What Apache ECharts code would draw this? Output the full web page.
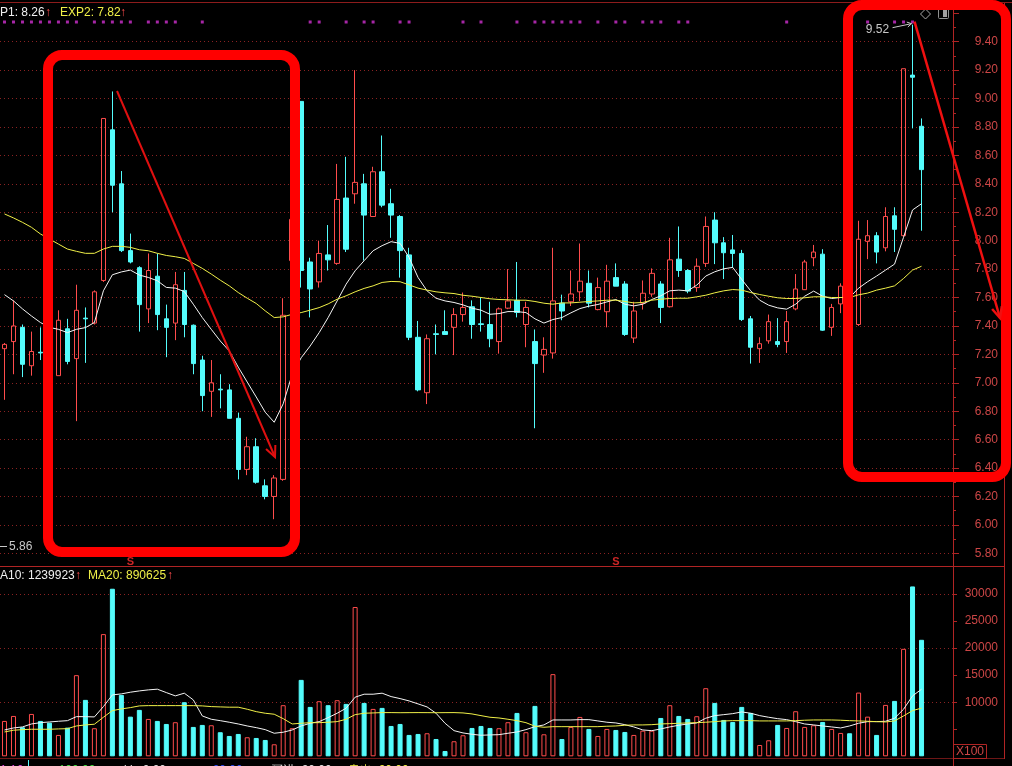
<!DOCTYPE html>
<html>
<head>
<meta charset="utf-8">
<script src="https://cdn.jsdelivr.net/npm/echarts@6/dist/echarts.min.js"></script>
<style>
html,body{margin:0;padding:0;background:#000;overflow:hidden}
#chart{width:1012px;height:766px}
</style>
</head>
<body>
<div id="chart"></div>
<script>
// ---- daily bars ----
const open = [7.24,7.29,7.39,7.12,7.215,7.30,7.05,7.38,7.17,7.455,
 7.42,7.72,8.78,8.40,7.93,7.81,7.52,7.75,7.45,7.42,
 7.65,7.405,7.16,6.94,6.955,6.95,6.75,6.39,6.55,6.275,
 6.20,6.32,7.86,8.98,7.85,7.71,7.90,7.84,8.30,8.33,
 8.40,8.17,8.485,8.26,8.17,7.90,7.32,6.93,7.345,7.36,
 7.39,7.48,7.535,7.415,7.41,7.29,7.525,7.58,7.41,7.29,
 7.195,7.21,7.56,7.57,7.64,7.70,7.515,7.50,7.74,7.695,
 7.315,7.56,7.625,7.695,7.535,7.87,7.79,7.67,7.84,8.145,
 7.985,7.935,7.91,7.45,7.24,7.295,7.29,7.29,7.52,7.655,
 7.88,7.905,7.39,7.555,7.67,7.41,7.995,8.035,7.95,8.175,
 8.035,9.165,8.805];
const close = [7.27,7.40,7.13,7.22,7.21,7.20,7.44,7.15,7.51,7.45,
 7.64,8.86,8.39,7.93,7.85,7.55,7.79,7.48,7.39,7.69,
 7.41,7.135,6.91,7.00,6.95,6.75,6.39,6.55,6.30,6.20,
 6.33,7.475,8.15,7.79,7.66,7.91,7.865,8.29,7.94,8.41,
 8.18,8.485,8.25,8.18,7.93,7.32,6.95,7.31,7.34,7.34,
 7.48,7.53,7.41,7.41,7.31,7.52,7.576,7.495,7.53,7.135,
 7.235,7.576,7.505,7.625,7.715,7.56,7.67,7.715,7.68,7.34,
 7.505,7.63,7.77,7.53,7.865,7.79,7.645,7.82,8.10,7.985,
 7.915,7.91,7.445,7.25,7.275,7.43,7.27,7.43,7.66,7.85,
 7.92,7.37,7.53,7.68,7.40,8.01,8.035,7.92,8.17,8.08,
 9.21,9.15,8.50];
const low = [6.88,7.06,7.04,7.05,7.16,7.15,7.05,7.13,6.73,7.14,
 7.41,7.71,8.20,7.92,7.84,7.36,7.42,7.37,7.18,7.30,
 7.32,7.06,6.80,6.76,6.82,6.75,6.32,6.35,6.29,6.18,
 6.04,6.31,7.84,7.67,7.46,7.67,7.79,7.83,7.92,8.26,
 7.86,8.17,8.235,8.02,7.74,7.30,6.94,6.85,7.20,7.34,
 7.195,7.43,7.31,7.36,7.25,7.205,7.518,7.46,7.25,6.68,
 7.07,7.17,7.44,7.54,7.575,7.53,7.51,7.39,7.68,7.33,
 7.28,7.515,7.605,7.42,7.53,7.745,7.63,7.64,7.815,7.835,
 7.73,7.81,7.435,7.135,7.14,7.275,7.25,7.21,7.51,7.655,
 7.82,7.365,7.33,7.49,7.38,7.40,7.87,7.84,7.925,7.92,
 8.03,8.79,8.07];
const high = [7.28,7.58,7.41,7.36,7.39,7.35,7.51,7.45,7.69,7.53,
 7.65,8.86,9.05,8.49,8.05,7.82,7.91,7.91,7.55,7.78,
 7.78,7.41,7.19,7.16,7.06,6.99,6.79,6.62,6.61,6.32,
 6.35,7.595,8.17,8.98,7.88,8.00,8.11,8.54,8.59,9.20,
 8.47,8.52,8.74,8.365,8.18,7.95,7.435,7.34,7.41,7.51,
 7.525,7.635,7.58,7.60,7.57,7.53,7.80,7.85,7.57,7.375,
 7.32,7.95,7.62,7.79,7.98,7.79,7.74,7.83,7.84,7.715,
 7.57,7.72,7.805,7.715,8.02,8.10,7.80,7.875,8.17,8.20,
 8.025,8.04,7.935,7.47,7.32,7.48,7.455,7.505,7.765,7.865,
 7.97,7.94,7.555,7.70,7.70,8.14,8.145,8.06,8.235,8.235,
 9.21,9.52,8.86];
// volume, in lots of 100 shares
const volume = [6540,7460,5370,7830,6540,6220,3950,5300,15000,10430,
 5190,22590,30980,11350,7330,8580,6910,6540,5980,6300,
 10000,5430,5800,5740,4450,3760,4130,3520,3390,3020,
 2220,9450,5190,14130,9130,10190,9450,10370,9690,27600,
 9870,8760,8950,5610,5980,3950,4130,4260,3200,980,
 2780,3890,5240,5610,5240,5190,6300,8020,4450,9320,
 4070,15190,3200,5430,7280,5060,3760,5060,4870,4500,
 3950,4740,4740,7090,9450,7460,6910,7410,12590,9870,
 6720,6350,9130,8020,2090,2960,5800,5240,8330,5430,
 5740,6350,5060,4320,4260,11780,7330,3950,9500,10240,
 19870,31410,21540];
// indicator lines on the price pane
const p1 = [7.62,7.576,7.52,7.47,7.424,7.39,7.376,7.353,7.376,7.388,
 7.424,7.647,7.76,7.78,7.793,7.758,7.741,7.718,7.671,7.666,
 7.642,7.553,7.459,7.376,7.294,7.224,7.11,7.005,6.90,6.793,
 6.722,6.852,7.06,7.176,7.259,7.353,7.459,7.576,7.694,7.788,
 7.859,7.929,7.965,7.993,7.981,7.882,7.741,7.647,7.595,7.576,
 7.565,7.548,7.525,7.511,7.482,7.487,7.501,7.501,7.494,7.45,
 7.42,7.445,7.459,7.492,7.522,7.539,7.551,7.569,7.586,7.553,
 7.541,7.553,7.586,7.612,7.647,7.652,7.647,7.687,7.751,7.781,
 7.802,7.812,7.727,7.647,7.581,7.546,7.527,7.518,7.553,7.609,
 7.645,7.609,7.593,7.60,7.60,7.666,7.711,7.751,7.793,7.835,
 8.024,8.216,8.26];
const exp2 = [8.188,8.16,8.129,8.094,8.047,8.012,7.976,7.941,7.925,7.911,
 7.911,7.941,7.96,7.96,7.953,7.936,7.929,7.911,7.896,7.887,
 7.875,7.84,7.805,7.765,7.722,7.682,7.635,7.595,7.558,7.506,
 7.459,7.464,7.482,7.494,7.511,7.529,7.555,7.588,7.612,7.64,
 7.664,7.682,7.706,7.713,7.711,7.689,7.666,7.652,7.64,7.633,
 7.628,7.616,7.609,7.60,7.591,7.586,7.584,7.581,7.581,7.572,
 7.56,7.553,7.562,7.562,7.567,7.572,7.576,7.581,7.581,7.572,
 7.562,7.565,7.581,7.588,7.593,7.595,7.595,7.605,7.616,7.633,
 7.647,7.656,7.652,7.635,7.621,7.609,7.598,7.593,7.593,7.598,
 7.605,7.605,7.60,7.60,7.60,7.619,7.631,7.652,7.666,7.682,
 7.734,7.793,7.82];
// volume averages (lots)
const volMa10 = [4870,5240,5430,5980,6220,6350,6480,6590,7330,7330,
 7280,9190,11350,11540,11850,12090,12280,12410,11780,11170,
 11670,10430,7460,6850,6590,6300,5980,5610,5300,4930,
 4260,4450,4870,5610,6110,6410,7150,7960,8890,10930,
 11480,11480,11670,11040,10670,10240,9690,9130,7960,6110,
 4740,4320,4070,3890,3950,4000,4260,4500,4930,5480,
 5800,6720,6720,6720,6780,6780,6540,6300,6170,5850,
 5430,4870,4740,5060,5430,5740,5980,6170,7040,7520,
 7700,7890,8200,7960,7520,7220,6960,6780,6410,5980,
 5800,5610,5430,5240,5610,6110,6410,6410,6480,7040,
 8700,11170,12399.23];
const volMa20 = [4500,4820,4930,5000,5000,5000,5060,5110,5610,5800,
 5930,7220,8450,8760,9000,9320,9370,9370,9370,9370,
 9370,9370,9320,9190,9130,9080,9080,8700,8260,7960,
 7780,6960,5980,6110,6220,6220,6300,6410,6850,7700,
 7960,8020,8080,8080,8060,8070,8080,8070,8060,8070,
 8080,8020,7830,7520,7220,7090,6850,6590,6220,5560,
 5370,5480,5480,5480,5480,5480,5480,5560,5610,5740,
 5800,5800,5850,5980,6040,6110,6170,6220,6300,6410,
 6540,6590,6590,6590,6540,6540,6540,6540,6590,6670,
 6720,6720,6720,6670,6590,6540,6480,6410,6350,6540,
 7460,8450,8906.25];
// signal markers (bar indexes)
const dotSignals = [0,1,2,3,4,5,6,7,8,10,11,12,13,14,16,17,18,19,22,34,35,
 38,40,41,44,45,51,53,57,59,60,61,62,63,64,66,68,69,71,72,73,75,76,87,96,99,100,101];
const sellSignals = [14, 68];
// axis ticks
const priceAxis = { min: 5.8, max: 9.6, step: 0.2 };
const volAxis = { min: 0, max: 35000, step: 5000, gridStep: 10000, firstLabel: 10000 };
const lowMark = 5.86;
const footStats = [
  { text: '1.16', color: '#e040e0' },
  { text: 'ss: 100.00', color: '#40e040' },
  { text: 'kk: 0.00', color: '#e0e0e0' },
  { text: 'zz: 20.00', color: '#3050ff' },
  { text: '买进: 20.00', color: '#e0e0e0' },
  { text: '卖出: 20.00', color: '#f0f040' }
];

const padSlots = 3;
const slots = Array.from({ length: open.length + padSlots }, (_, i) => String(i + 1));

const RED = '#ff4c4c';
const CYAN = '#54fcfc';
const YELLOW = '#f0f048';
const AXIS_RED = '#b02424';
const LABEL_RED = '#cc4646';
const GRID_RED = '#8a2222';
const FONT = '"Liberation Sans", Arial, sans-serif';

const kData = open.map((o, i) => [o, close[i], low[i], high[i]]);
const volData = volume.map((v, i) => ({
  value: v,
  itemStyle: close[i] >= open[i]
    ? { color: 'rgba(0,0,0,0)', borderColor: RED, borderWidth: 1 }
    : { color: CYAN, borderColor: CYAN, borderWidth: 1 }
}));

const PLOT_W = 953;
const grids = [
  { left: 0, top: 13.3, width: PLOT_W, height: 540 },
  { left: 0, top: 567, width: PLOT_W, height: 189.3 },
  { left: 0, top: 20, width: PLOT_W, height: 4 },
  { left: 0, top: 557, width: PLOT_W, height: 10 }
].map(g => Object.assign({ containLabel: false, outerBoundsMode: 'none' }, g));

const hiddenX = gi => ({
  type: 'category', gridIndex: gi, data: slots, boundaryGap: true,
  axisLine: { show: false }, axisTick: { show: false }, axisLabel: { show: false }, splitLine: { show: false }
});

const chart = echarts.init(document.getElementById('chart'), null, { renderer: 'canvas' });

function arrowHead(x1, y1, x2, y2, len, deg) {
  const a = Math.atan2(y1 - y2, x1 - x2);
  const r = deg * Math.PI / 180;
  return [
    [x2 + len * Math.cos(a + r), y2 + len * Math.sin(a + r)],
    [x2, y2],
    [x2 + len * Math.cos(a - r), y2 + len * Math.sin(a - r)]
  ];
}
function seg(x1, y1, x2, y2, color, w) {
  return { type: 'line', silent: true, shape: { x1, y1, x2, y2 }, style: { stroke: color, lineWidth: w || 1 } };
}
function txt(x, y, text, color, align, extra) {
  return Object.assign({
    type: 'text', silent: true, x, y,
    style: { text, fill: color, font: '12px ' + FONT, textAlign: align || 'left', textVerticalAlign: 'middle' }
  }, extra || {});
}

const lastP1 = p1[p1.length - 1];
const lastExp2 = exp2[exp2.length - 1];
const topHigh = Math.max(...high);

const graphics = [
  // pane frame
  seg(0, 2.5, 1012, 2.5, '#8c1c1c'),
  seg(0, 566.5, 1004, 566.5, AXIS_RED),
  seg(0, 758.5, 1004, 758.5, '#6e1616'),
  seg(953.5, 3, 953.5, 766, AXIS_RED),
  seg(1004.5, 3, 1004.5, 759, AXIS_RED),
  { type: 'rect', silent: true, shape: { x: 953.5, y: 744.5, width: 33, height: 14 }, style: { fill: null, stroke: AXIS_RED, lineWidth: 1 } },
  txt(970, 752, 'X100', LABEL_RED, 'center'),
  // top legend
  txt(0, 13, 'P1: ' + lastP1.toFixed(2), '#f0f0f0'),
  txt(45, 13, '↑', RED),
  txt(60, 13, 'EXP2: ' + lastExp2.toFixed(2), YELLOW),
  txt(120, 13, '↑', RED),
  // volume legend
  txt(-10, 576, 'MA10: ' + Math.round(volMa10[volMa10.length - 1] * 100), '#f0f0f0'),
  txt(75, 576, '↑', RED),
  txt(88, 576, 'MA20: ' + Math.round(volMa20[volMa20.length - 1] * 100), YELLOW),
  txt(167, 576, '↑', RED),
  // low marker
  seg(0, 546.5, 7, 546.5, '#c8c8c8'),
  txt(9, 547, lowMark.toFixed(2), '#c8c8c8'),
  // icons top-right
  { type: 'polygon', silent: true, shape: { points: [[925.5, 9], [930.5, 14], [925.5, 19], [920.5, 14]] }, style: { fill: null, stroke: '#a8a8a8', lineWidth: 1 } },
  { type: 'rect', silent: true, shape: { x: 938.5, y: 8.5, width: 10, height: 10, r: 1 }, style: { fill: null, stroke: '#909090', lineWidth: 1 } },
  { type: 'rect', silent: true, shape: { x: 943, y: 10, width: 4, height: 7 }, style: { fill: '#a0a0a0' } }
];

// bottom statistics row (cut by the window edge)
let fx = 0;
footStats.forEach((s, i) => {
  graphics.push(txt(fx, 771, s.text, s.color));
  if (i === 0) graphics.push(seg(28.5, 760, 28.5, 766, '#54fcfc'));
  fx += (i === 0 ? 40 : s.text.length * 7 + 14);
});

chart.setOption({
  backgroundColor: '#000',
  animation: false,
  grid: grids,
  xAxis: [hiddenX(0), hiddenX(1), hiddenX(2), hiddenX(3)],
  yAxis: [
    {
      type: 'value', gridIndex: 0, position: 'right',
      min: priceAxis.min, max: priceAxis.max, interval: priceAxis.step,
      axisLine: { show: false },
      axisTick: { show: true, length: 6, lineStyle: { color: AXIS_RED } },
      minorTick: { show: true, splitNumber: 2, length: 3, lineStyle: { color: AXIS_RED } },
      axisLabel: { color: LABEL_RED, fontSize: 12, fontFamily: FONT, margin: 45, align: 'right', showMaxLabel: false,
                   formatter: v => v.toFixed(2) },
      splitLine: { show: true, showMaxLine: false, lineStyle: { color: GRID_RED, type: [1, 3], width: 1 } }
    },
    {
      type: 'value', gridIndex: 1, position: 'right',
      min: volAxis.min, max: volAxis.max, interval: volAxis.step,
      axisLine: { show: false },
      axisTick: { show: true, length: 4, lineStyle: { color: AXIS_RED } },
      axisLabel: { color: LABEL_RED, fontSize: 12, fontFamily: FONT, margin: 45, align: 'right',
                   showMinLabel: false, showMaxLabel: false,
                   formatter: v => (v >= volAxis.firstLabel && v < volAxis.max) ? String(Math.round(v)) : '' },
      splitLine: { show: false }
    },
    {
      type: 'value', gridIndex: 1, position: 'right',
      min: volAxis.min, max: volAxis.max, interval: volAxis.gridStep,
      axisLine: { show: false }, axisTick: { show: false }, axisLabel: { show: false },
      splitLine: { show: true, showMinLine: false, showMaxLine: false, lineStyle: { color: GRID_RED, type: [1, 3], width: 1 } }
    },
    { type: 'value', gridIndex: 2, min: 0, max: 2, show: false },
    { type: 'value', gridIndex: 3, min: 0, max: 2, show: false }
  ],
  series: [
    {
      type: 'candlestick', xAxisIndex: 0, yAxisIndex: 0, data: kData, barWidth: 5,
      itemStyle: { color: 'rgba(0,0,0,0)', color0: CYAN, borderColor: RED, borderColor0: CYAN, borderWidth: 1 }
    },
    { type: 'line', xAxisIndex: 0, yAxisIndex: 0, data: p1, symbol: 'none', lineStyle: { color: '#f4f4f4', width: 1 } },
    { type: 'line', xAxisIndex: 0, yAxisIndex: 0, data: exp2, symbol: 'none', lineStyle: { color: YELLOW, width: 1 } },
    { type: 'bar', xAxisIndex: 1, yAxisIndex: 1, data: volData, barWidth: 5 },
    { type: 'line', xAxisIndex: 1, yAxisIndex: 1, data: volMa10, symbol: 'none', lineStyle: { color: '#f4f4f4', width: 1 } },
    { type: 'line', xAxisIndex: 1, yAxisIndex: 1, data: volMa20, symbol: 'none', lineStyle: { color: YELLOW, width: 1 } },
    {
      type: 'scatter', xAxisIndex: 2, yAxisIndex: 3, data: dotSignals.map(i => [i, 1]),
      symbol: 'rect', symbolSize: [3, 3], itemStyle: { color: '#d030d0' }, silent: true
    },
    {
      type: 'scatter', xAxisIndex: 3, yAxisIndex: 4, data: sellSignals.map(i => [i, 1]),
      symbolSize: 0.1, silent: true,
      label: { show: true, formatter: 'S', position: 'inside', color: '#ff3030', fontSize: 11, fontWeight: 'bold', fontFamily: FONT }
    }
  ],
  graphic: graphics
});

// highlight frames and trend arrows drawn on top of the chart
const px = (i, v) => chart.convertToPixel({ xAxisIndex: 0, yAxisIndex: 0 }, [i, v]);
const hi = px(101, topHigh);
const overlay = [
  { type: 'rect', silent: true, z: 100, shape: { x: 48, y: 55, width: 247, height: 497, r: 14 }, style: { fill: null, stroke: '#ff0000', lineWidth: 10 } },
  { type: 'rect', silent: true, z: 100, shape: { x: 848, y: 5, width: 158, height: 472, r: 14 }, style: { fill: null, stroke: '#ff0000', lineWidth: 10 } },
  { type: 'polyline', silent: true, z: 101, shape: { points: [[117, 91], [275, 457]] }, style: { stroke: '#e01010', lineWidth: 2 } },
  { type: 'polyline', silent: true, z: 101, shape: { points: arrowHead(117, 91, 275, 457, 12, 25) }, style: { stroke: '#e01010', lineWidth: 2, fill: null } },
  { type: 'polyline', silent: true, z: 101, shape: { points: [[hi[0] + 2, hi[1] - 3], [1000, 318]] }, style: { stroke: '#f01010', lineWidth: 2.5 } },
  { type: 'polyline', silent: true, z: 101, shape: { points: arrowHead(hi[0] + 2, hi[1] - 3, 1000, 318, 12, 25) }, style: { stroke: '#f01010', lineWidth: 2.5, fill: null } },
  // high price tag
  txt(hi[0] - 35, hi[1] + 5, topHigh.toFixed(2), '#c8c8c8', 'center', { z: 102 }),
  { type: 'polyline', silent: true, z: 102, shape: { points: [[hi[0] - 20, hi[1] + 3], [hi[0] - 1, hi[1] - 1]] }, style: { stroke: '#c8c8c8', lineWidth: 1 } },
  { type: 'polyline', silent: true, z: 102, shape: { points: arrowHead(hi[0] - 20, hi[1] + 3, hi[0] - 1, hi[1] - 1, 5, 30) }, style: { stroke: '#c8c8c8', lineWidth: 1, fill: null } }
];
chart.setOption({ graphic: graphics.concat(overlay) });
</script>
</body>
</html>
